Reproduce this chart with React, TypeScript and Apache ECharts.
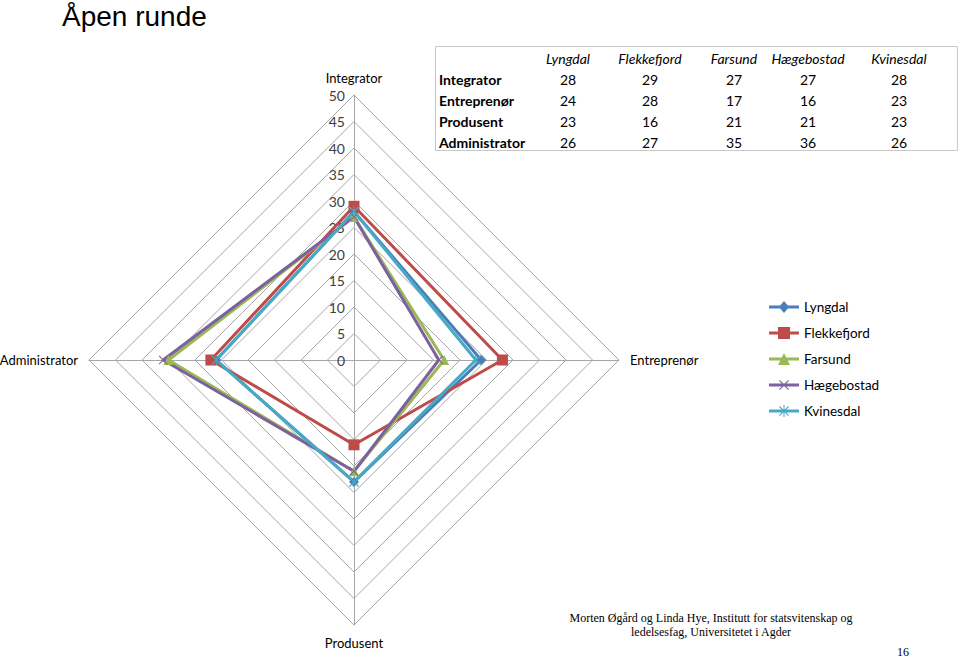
import React, { useEffect, useRef } from "react";
import * as echarts from "echarts";

const seriesNames = ["Lyngdal", "Flekkefjord", "Farsund", "Hægebostad", "Kvinesdal"];
const rowNames = ["Integrator", "Entreprenør", "Produsent", "Administrator"];
const integrator = [28, 29, 27, 27, 28];
const entreprenor = [24, 28, 17, 16, 23];
const produsent = [23, 16, 21, 21, 23];
const administrator = [26, 27, 35, 36, 26];
const tableRows = [integrator, entreprenor, produsent, administrator];
const colors = ["#4A7EBB", "#BE4B48", "#98B954", "#7D60A0", "#46AAC5"];

const xShape = "M0,0.8L0.8,0L5,4.2L9.2,0L10,0.8L5.8,5L10,9.2L9.2,10L5,5.8L0.8,10L0,9.2L4.2,5Z";
const starShape = xShape + "M4.5,0L5.5,0L5.5,10L4.5,10Z";
const symbols = ["diamond", "rect", "triangle", "path://" + xShape, "path://" + starShape];
const symbolSizes = [10, 11, 10, 9, 10];

const lineP = "M0,4.5L30,4.5L30,7.5L0,7.5Z";
const legendIcons = [
  "path://" + lineP + "M15,0L20,6L15,12L10,6Z",
  "path://" + lineP + "M9,0L21,0L21,12L9,12Z",
  "path://" + lineP + "M15,0L21,12L9,12Z",
  "path://" + lineP + "M10,1.8L10.8,1L15,5.2L19.2,1L20,1.8L15.8,6L20,10.2L19.2,11L15,6.8L10.8,11L10,10.2L14.2,6Z" + "M15,0L15.01,0L15.01,12L15,12Z",
  "path://" + lineP + "M10,1.8L10.8,1L15,5.2L19.2,1L20,1.8L15.8,6L20,10.2L19.2,11L15,6.8L10.8,11L10,10.2L14.2,6Z" + "M14.5,0L15.5,0L15.5,12L14.5,12Z",
];

const tickFont = "Lato, 'Open Sans', sans-serif";

export default function App() {
  const ref = useRef<HTMLDivElement>(null);
  useEffect(() => {
    if (!ref.current) return;
    const chart = echarts.init(ref.current, undefined, { renderer: "svg" });

    // radar order (counter-clockwise from top): Integrator, Administrator, Produsent, Entreprenør
    const indicator = [
      { name: "Integrator", max: 50, min: 0, axisLabel: { show: true } },
      { name: "Administrator", max: 50, min: 0 },
      { name: "Produsent", max: 50, min: 0 },
      { name: "Entreprenør", max: 50, min: 0 },
    ];

    const colX = [568, 650, 734, 808, 899];
    const rowY = [79, 100, 121, 142];
    const tableEls: any[] = [
      {
        type: "rect",
        shape: { x: 435.5, y: 46.5, width: 522, height: 104 },
        style: { fill: "none", stroke: "#c8c8c8", lineWidth: 1 },
      },
    ];
    seriesNames.forEach((n, i) => {
      tableEls.push({
        type: "text",
        x: colX[i],
        y: 58,
        style: {
          text: n,
          font: "italic 14px " + tickFont,
          fill: "#000",
          align: "center",
          verticalAlign: "middle",
        },
      });
    });
    rowNames.forEach((r, j) => {
      tableEls.push({
        type: "text",
        x: 439,
        y: rowY[j],
        style: {
          text: r,
          font: "bold 14px " + tickFont,
          fill: "#000",
          align: "left",
          verticalAlign: "middle",
        },
      });
      tableRows[j].forEach((v, i) => {
        tableEls.push({
          type: "text",
          x: colX[i],
          y: rowY[j],
          style: {
            text: String(v),
            font: "14px " + tickFont,
            fill: "#000",
            align: "center",
            verticalAlign: "middle",
          },
        });
      });
    });

    const option: any = {
      animation: false,
      backgroundColor: "#fff",
      color: colors,
      legend: {
        orient: "vertical",
        left: 764,
        top: 295,
        itemWidth: 30,
        itemHeight: 12,
        itemGap: 12,
        textStyle: { fontFamily: tickFont, fontSize: 13.5, color: "#000" },
        data: seriesNames.map((n, i) => ({ name: n, icon: legendIcons[i] })),
      },
      radar: {
        center: [354, 360],
        radius: 265,
        startAngle: 90,
        shape: "polygon",
        splitNumber: 10,
        indicator,
        nameGap: 11,
        axisName: { color: "#000", fontFamily: tickFont, fontSize: 13 },
        axisLine: { lineStyle: { color: "#a6a6a6", width: 1 } },
        splitLine: { lineStyle: { color: "#a6a6a6", width: 1 } },
        splitArea: { show: false },
        axisTick: { show: false },
        axisLabel: { show: false, color: "#404040", fontFamily: tickFont, fontSize: 14, margin: 9 },
      },
      series: [
        {
          type: "radar",
          data: seriesNames.map((n, i) => ({
            name: n,
            value: [integrator[i], administrator[i], produsent[i], entreprenor[i]],
            symbol: symbols[i],
            symbolSize: symbolSizes[i],
            symbolKeepAspect: true,
            lineStyle: { color: colors[i], width: 3 },
            itemStyle: { color: colors[i] },
          })),
        },
      ],
      graphic: [
        {
          type: "text",
          left: 62,
          top: 2,
          style: { text: "Åpen runde", font: "28px 'Liberation Sans', Arial, sans-serif", fill: "#000" },
        },
        { type: "group", children: tableEls },
        {
          type: "text",
          x: 711,
          y: 618,
          style: {
            text: "Morten Øgård og Linda Hye, Institutt for statsvitenskap og",
            font: "12px 'Liberation Serif', serif",
            fill: "#000",
            align: "center",
            verticalAlign: "middle",
          },
        },
        {
          type: "text",
          x: 711,
          y: 632,
          style: {
            text: "ledelsesfag, Universitetet i Agder",
            font: "12px 'Liberation Serif', serif",
            fill: "#000",
            align: "center",
            verticalAlign: "middle",
          },
        },
        {
          type: "text",
          x: 903,
          y: 652,
          style: {
            text: "16",
            font: "12px 'Liberation Serif', serif",
            fill: "#000",
            align: "center",
            verticalAlign: "middle",
          },
        },
      ],
    };
    chart.setOption(option);
    return () => chart.dispose();
  }, []);
  return <div ref={ref} style={{ width: 960, height: 658, position: "absolute", left: 0, top: 0 }} />;
}
